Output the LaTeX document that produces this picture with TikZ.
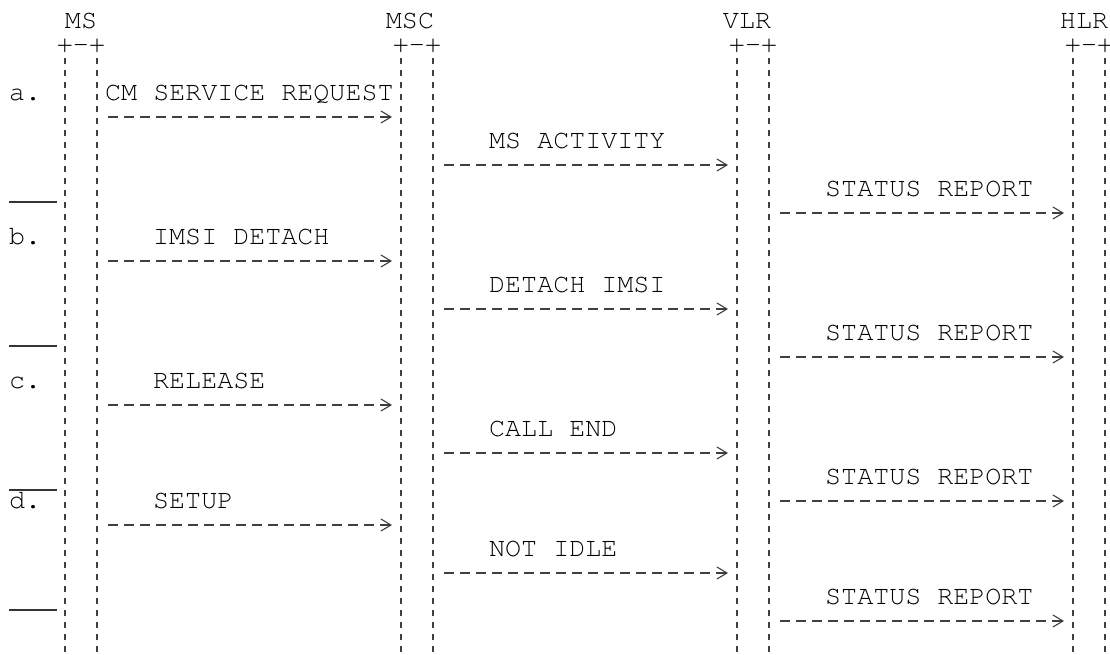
\documentclass[tikz,border=0pt]{standalone}
\usepackage{fontspec}
\setmainfont{TeX Gyre Cursor}
\usetikzlibrary{arrows.meta}

\begin{document}
\begin{tikzpicture}[
  x=1pt, y=-1pt,
  font=\fontsize{26.7}{24}\selectfont,
  ent/.style={inner sep=0pt, anchor=base},
  lbl/.style={inner sep=0pt, anchor=base west},
  life/.style={line width=1.4pt, black!75, dash pattern=on 6pt off 6pt},
  msg/.style={line width=1.4pt, black!75, dash pattern=on 10pt off 6pt,
              -{Straight Barb[length=10pt, width=12pt, line width=1.1pt]},
              shorten <=11pt, shorten >=9pt},
  sep/.style={line width=1.3pt, black!80}
]
\useasboundingbox (0,0) rectangle (1110,655);

% Entities
\node[ent] (ms)  at (81,28.5)   {MS};
\node[ent] (msc) at (410,28.5)  {MSC};
\node[ent] (vlr) at (747,28.5)  {VLR};
\node[ent] (hlr) at (1084,28.5) {HLR};

\node[ent] (msTop)  at (81,52.5)   {+-+};
\node[ent] (mscTop) at (417,52.5)  {+-+};
\node[ent] (vlrTop) at (753,52.5)  {+-+};
\node[ent] (hlrTop) at (1089,52.5) {+-+};

% Lifelines
\foreach \n/\x in {MS/81, MSC/417, VLR/753, HLR/1089} {
  \coordinate (\n-l) at (\x-16,58);
  \coordinate (\n-r) at (\x+16,58);
  \draw[life] (\n-l) -- ++(0,597);
  \draw[life] (\n-r) -- ++(0,597);
}

% Row helpers
\foreach \r/\y in {a1/117, a2/165, a3/213, b1/261, b2/309, b3/357,
                   c1/405, c2/453, c3/501, d1/525, d2/573, d3/621}
  \coordinate (\r) at (0,\y);

% a. MS activity
\node[lbl] (la)   at (9,100.5)   {a.};
\node[lbl] (cmsr) at (105,100.5) {CM SERVICE REQUEST};
\draw[msg] (MS-r |- a1) -- (MSC-l |- a1);
\node[lbl] (msact) at (489,148.5) {MS ACTIVITY};
\draw[msg] (MSC-r |- a2) -- (VLR-l |- a2);
\node[lbl] (sra) at (825,196.5) {STATUS REPORT};
\draw[msg] (VLR-r |- a3) -- (HLR-l |- a3);
\draw[sep] (9,202) -- (57,202);

% b. IMSI detach
\node[lbl] (lb)    at (9,244.5)   {b.};
\node[lbl] (imsid) at (153,244.5) {IMSI DETACH};
\draw[msg] (MS-r |- b1) -- (MSC-l |- b1);
\node[lbl] (detim) at (489,292.5) {DETACH IMSI};
\draw[msg] (MSC-r |- b2) -- (VLR-l |- b2);
\node[lbl] (srb) at (825,340.5) {STATUS REPORT};
\draw[msg] (VLR-r |- b3) -- (HLR-l |- b3);
\draw[sep] (9,346) -- (57,346);

% c. release
\node[lbl] (lc)  at (9,388.5)   {c.};
\node[lbl] (rel) at (153,388.5) {RELEASE};
\draw[msg] (MS-r |- c1) -- (MSC-l |- c1);
\node[lbl] (cend) at (489,436.5) {CALL END};
\draw[msg] (MSC-r |- c2) -- (VLR-l |- c2);
\node[lbl] (src) at (825,484.5) {STATUS REPORT};
\draw[msg] (VLR-r |- c3) -- (HLR-l |- c3);
\draw[sep] (9,490) -- (57,490);

% d. setup
\node[lbl] (ld)    at (9,508.5)   {d.};
\node[lbl] (setup) at (153,508.5) {SETUP};
\draw[msg] (MS-r |- d1) -- (MSC-l |- d1);
\node[lbl] (nidle) at (489,556.5) {NOT IDLE};
\draw[msg] (MSC-r |- d2) -- (VLR-l |- d2);
\node[lbl] (srd) at (825,604.5) {STATUS REPORT};
\draw[msg] (VLR-r |- d3) -- (HLR-l |- d3);
\draw[sep] (9,610) -- (57,610);

\end{tikzpicture}
\end{document}
